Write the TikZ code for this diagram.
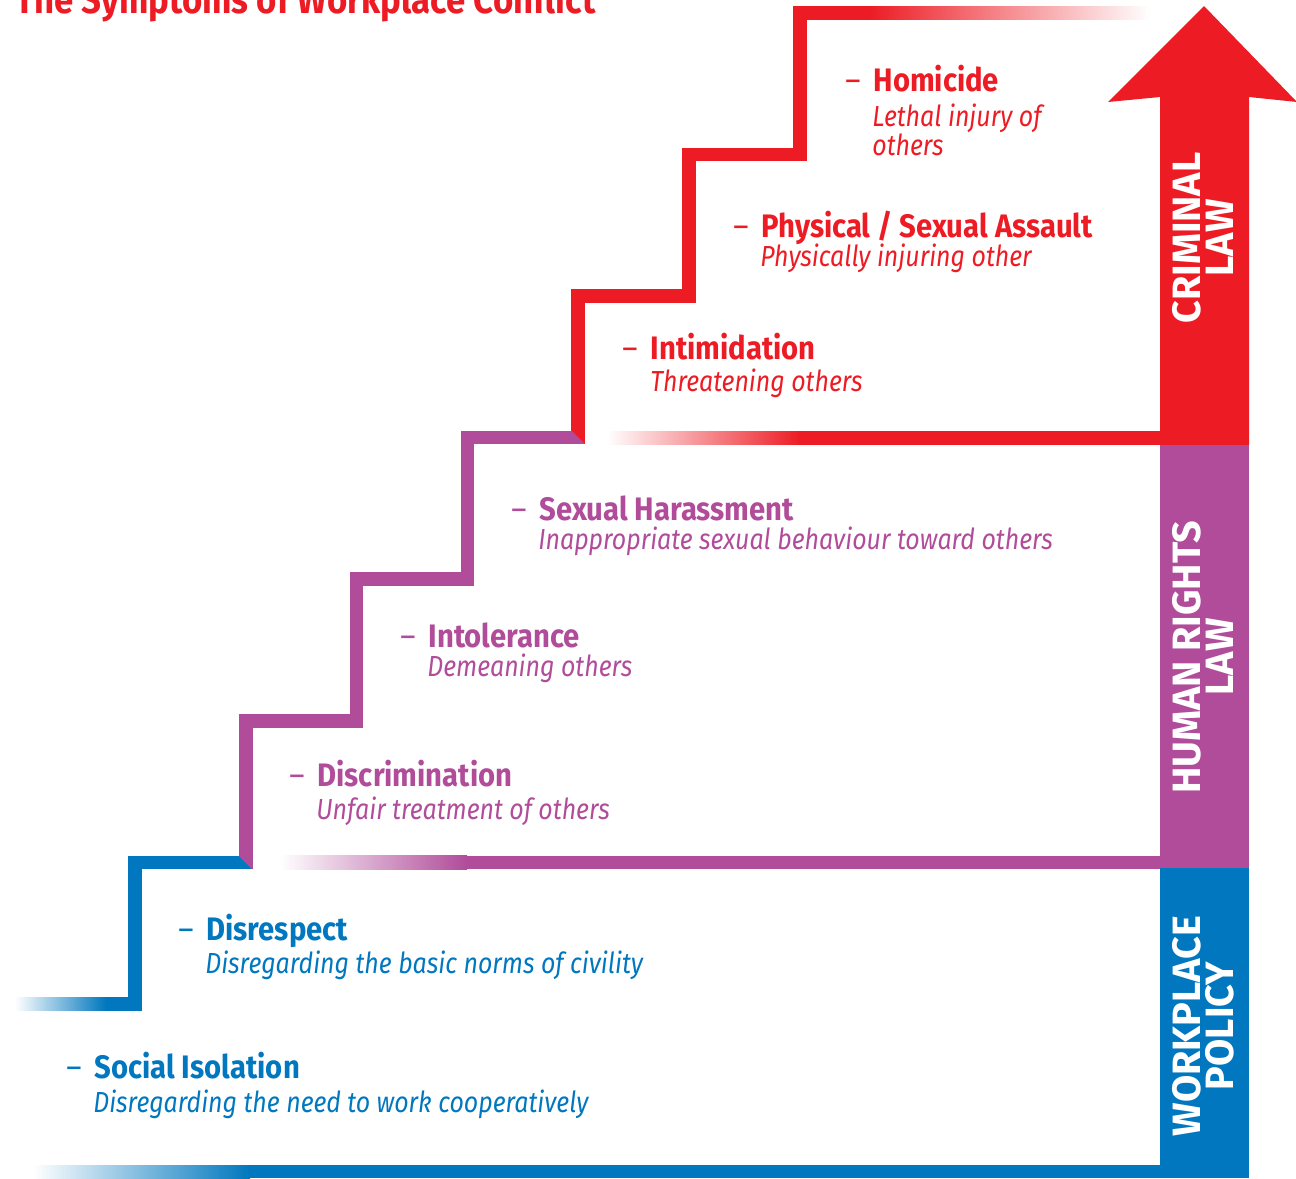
\documentclass[tikz,border=0pt]{standalone}
\usepackage{fontspec}
\setmainfont{Fira Sans}
\newfontfamily\labelfont[FakeStretch=0.9]{Fira Sans}
\newfontfamily\descfont[FakeStretch=0.86]{Fira Sans}

\definecolor{lawred}{RGB}{237,28,36}
\definecolor{rightspurple}{RGB}{176,76,154}
\definecolor{policyblue}{RGB}{0,119,190}

\newcommand{\stepdash}{{\mdseries\textendash}\hspace{0.4em}}

\begin{document}
\begin{tikzpicture}[x = 0.02cm, y = -0.02cm,
		stair/.style = {line width = 0.27cm},
		symptom/.style = {anchor = base west, inner sep = 0pt,
			font = \labelfont\fontsize{18.5}{20}\selectfont\bfseries},
		symptomnote/.style = {anchor = base west, inner sep = 0pt, align = left,
			font = \descfont\fontsize{16.5}{16.5}\selectfont\itshape},
		lawlabel/.style = {rotate = 90, align = center, inner sep = 0pt, text = white,
			font = \fontsize{22.5}{18.9}\selectfont\bfseries}]
	\useasboundingbox (0,0) rectangle (1296,1178);

	% corners of the stairs
	\foreach \k in {0,...,6}
		\coordinate (step\k) at ({135 + \k*110.8}, {1004 - \k*141.6});
	\path[save path = \stairline] (105,1004) -- (step0) |- (step1) |- (step2) |- (step3)
		|- (step4) |- (step5) |- (step6) |- (870,12.8);

	% law bars
	\fill [lawred] (1160,445) -- (1160,97) -- (1108,102) -- (1204,6) -- (1297,102)
		-- (1249,97) -- (1249,445) -- cycle;
	\fill [rightspurple] (1160,445) rectangle (1249,868);
	\fill [policyblue] (1160,868) rectangle (1249,1178);

	% floors
	\shade [left color = white, right color = lawred] (607,431) rectangle (800,444.5);
	\fill [lawred] (799,431) rectangle (1160,444.5);
	\shade [left color = white, right color = rightspurple] (280,855.7) rectangle (467,869.2);
	\fill [rightspurple] (466,855.7) rectangle (1160,869.2);
	\shade [left color = white, right color = policyblue] (33,1165) rectangle (250,1178);
	\fill [policyblue] (249,1165) rectangle (1160,1178);

	% stairs
	\begin{scope}
		\clip ([shift = {(-2000,-2000)}]step1) -- ([shift = {(2000,2000)}]step1)
			-- ([shift = {(-2000,2000)}]step1) -- cycle;
		\draw [stair, policyblue, use path = \stairline];
	\end{scope}

	\begin{scope}
		\clip ([shift = {(-2000,-2000)}]step1) -- ([shift = {(2000,2000)}]step1)
			-- ([shift = {(2000,2000)}]step4) -- ([shift = {(-2000,-2000)}]step4) -- cycle;
		\draw [stair, rightspurple, use path = \stairline];
	\end{scope}

	\begin{scope}
		\clip ([shift = {(-2000,-2000)}]step4) -- ([shift = {(2000,2000)}]step4)
			-- ([shift = {(2000,-2000)}]step4) -- cycle;
		\draw [stair, lawred, use path = \stairline];
	\end{scope}

	\shade [left color = white, right color = policyblue] (15,997.25) rectangle (106,1010.75);
	\shade [left color = lawred, right color = white] (869,6.05) rectangle (1150,19.55);

	% title
	\node [anchor = base west, inner sep = 0pt, text = lawred,
		font = \labelfont\fontsize{22}{24}\selectfont\bfseries] (title) at (15,13)
		{The Symptoms of Workplace Conflict};

	% criminal law
	\node [symptom, text = lawred] (homicide) at (845,91) {\stepdash Homicide};
	\node [symptomnote, text = lawred] (homicide-note) at (872,155) {Lethal injury of\\others};
	\node [symptom, text = lawred] (assault) at (733,237) {\stepdash Physical / Sexual Assault};
	\node [symptomnote, text = lawred] (assault-note) at (760,266) {Physically injuring other};
	\node [symptom, text = lawred] (intimidation) at (622,359) {\stepdash Intimidation};
	\node [symptomnote, text = lawred] (intimidation-note) at (650,391) {Threatening others};

	% human rights law
	\node [symptom, text = rightspurple] (harassment) at (511,520) {\stepdash Sexual Harassment};
	\node [symptomnote, text = rightspurple] (harassment-note) at (538,549)
		{Inappropriate sexual behaviour toward others};
	\node [symptom, text = rightspurple] (intolerance) at (400,647) {\stepdash Intolerance};
	\node [symptomnote, text = rightspurple] (intolerance-note) at (427,676) {Demeaning others};
	\node [symptom, text = rightspurple] (discrimination) at (289,786) {\stepdash Discrimination};
	\node [symptomnote, text = rightspurple] (discrimination-note) at (316,819)
		{Unfair treatment of others};

	% workplace policy
	\node [symptom, text = policyblue] (disrespect) at (178,940) {\stepdash Disrespect};
	\node [symptomnote, text = policyblue] (disrespect-note) at (205,973)
		{Disregarding the basic norms of civility};
	\node [symptom, text = policyblue] (isolation) at (66,1078) {\stepdash Social Isolation};
	\node [symptomnote, text = policyblue] (isolation-note) at (93,1112)
		{Disregarding the need to work cooperatively};

	% bar labels
	\node [lawlabel] (criminal) at (1203,238) {CRIMINAL\\LAW};
	\node [lawlabel] (rights) at (1203,657) {HUMAN RIGHTS\\LAW};
	\node [lawlabel] (policy) at (1203,1026) {WORKPLACE\\POLICY};
\end{tikzpicture}
\end{document}
